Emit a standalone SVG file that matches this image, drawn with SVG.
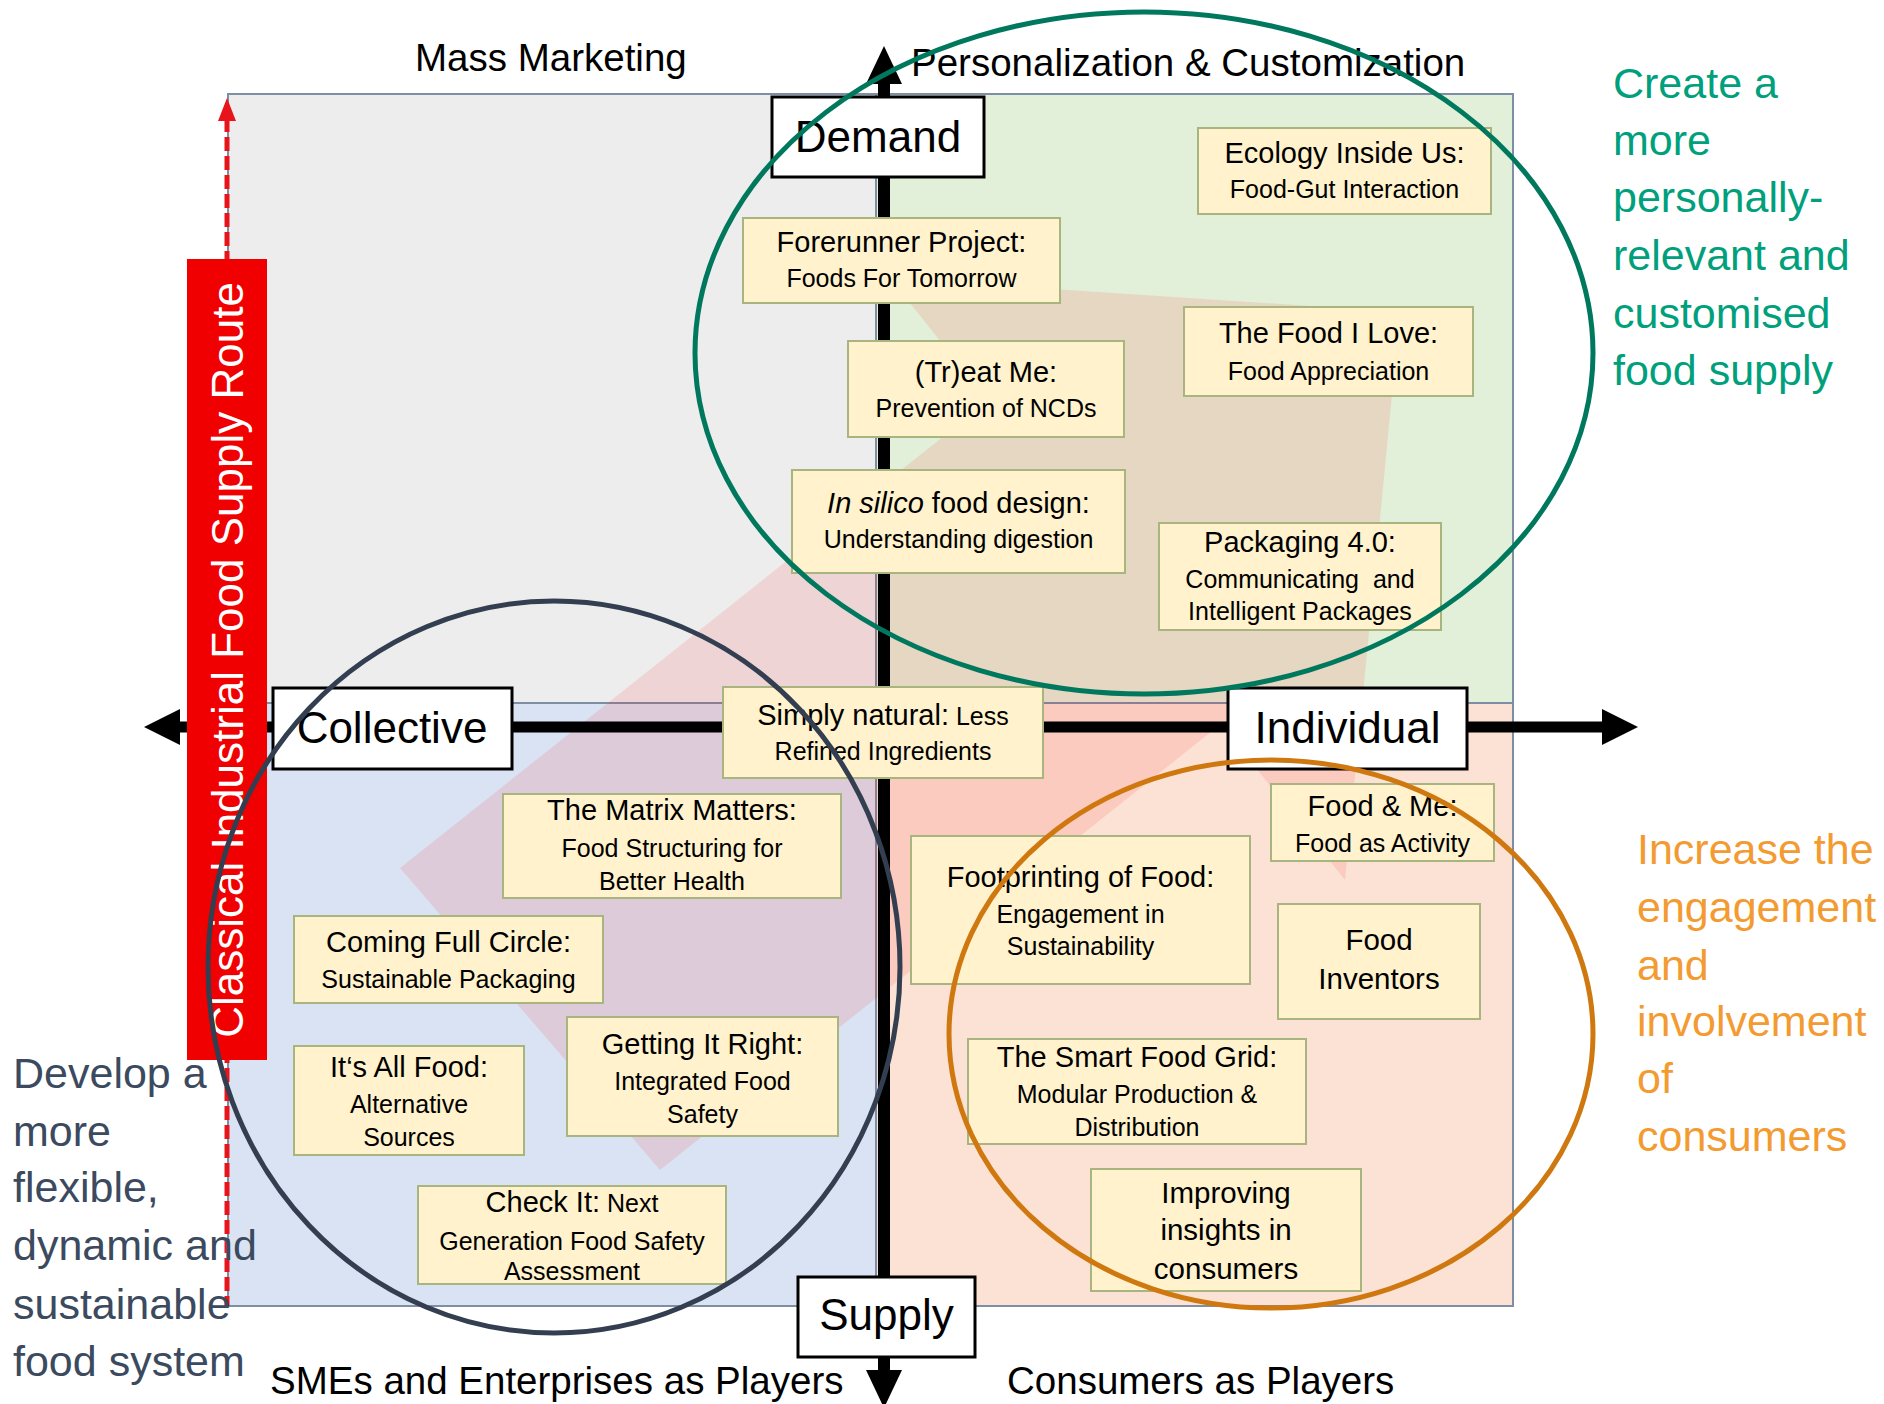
<svg xmlns="http://www.w3.org/2000/svg" width="1884" height="1404" viewBox="0 0 1884 1404">
<defs>
<style>
.q{stroke:#7D8EA5;stroke-width:2}
.box{fill:#FFF2CC;stroke:#A9B57F;stroke-width:2}
.lbl{fill:#FFFFFF;stroke:#000000;stroke-width:3}
text{font-family:'Liberation Sans',Arial,sans-serif}
.t{fill:#000;text-anchor:middle}
.h{font-size:29px}
.s{font-size:25px}
.g{font-size:29.5px}
.b{font-size:44px}
.ax{font-size:38.5px;fill:#000}
.side{font-size:43px}
.ell{fill:none;stroke-width:5}
</style>
</defs>
<rect width="1884" height="1404" fill="#FFFFFF"/>

<g id="quadrants">
<rect class="q" x="228" y="94" width="648" height="609" fill="#EDEDED"/>
<rect class="q" x="876" y="94" width="637" height="609" fill="#E2F0D9"/>
<rect class="q" x="228" y="703" width="648" height="603" fill="#DAE3F3"/>
<rect class="q" x="876" y="703" width="637" height="603" fill="#FBE2D5"/>
</g>

<g id="transition-arrow">
<polygon points="400,868 988,401 890,278 1400,312 1345,880 1221,724 660,1170" fill="#FF0000" fill-opacity="0.1"/>
</g>

<g id="connectors">
<line x1="884" y1="82" x2="884" y2="1372" stroke="#000" stroke-width="12"/>
<polygon points="884,46 866,84 902,84" fill="#000"/>
<polygon points="866,1370 902,1370 884,1408" fill="#000"/>
<line x1="178" y1="727" x2="1606" y2="727" stroke="#000" stroke-width="11"/>
<polygon points="144,727 180,709 180,745" fill="#000"/>
<polygon points="1638,727 1602,709 1602,745" fill="#000"/>
<line x1="227" y1="118" x2="227" y2="1306" stroke="#E8141B" stroke-width="5" stroke-dasharray="14 5"/>
<polygon points="227,98 218,121 236,121" fill="#E8141B"/>
</g>

<g id="classical-route">
<rect x="187" y="259" width="80" height="801" fill="#F00000"/>
<text transform="translate(243,660) rotate(-90)" text-anchor="middle" font-size="44" fill="#FFFFFF">Classical Industrial Food Supply Route</text>
</g>

<g id="ecology">
<rect class="box" x="1198" y="128" width="293" height="86"/>
<text class="t"><tspan class="h" x="1344.5" y="163">Ecology Inside Us:</tspan><tspan class="s" x="1344.5" y="198">Food-Gut Interaction</tspan></text>
</g>
<g id="forerunner">
<rect class="box" x="743" y="218" width="317" height="85"/>
<text class="t"><tspan class="h" x="901.5" y="252">Forerunner Project:</tspan><tspan class="s" x="901.5" y="287">Foods For Tomorrow</tspan></text>
</g>
<g id="treat-me">
<rect class="box" x="848" y="341" width="276" height="96"/>
<text class="t"><tspan class="h" x="986" y="382">(Tr)eat Me:</tspan><tspan class="s" x="986" y="417">Prevention of NCDs</tspan></text>
</g>
<g id="in-silico">
<rect class="box" x="792" y="470" width="333" height="103"/>
<text class="t"><tspan class="h" x="958.5" y="513"><tspan font-style="italic">In silico</tspan> food design:</tspan><tspan class="s" x="958.5" y="548">Understanding digestion</tspan></text>
</g>
<g id="packaging">
<rect class="box" x="1159" y="523" width="282" height="107"/>
<text class="t" xml:space="preserve"><tspan class="h" x="1300" y="552">Packaging 4.0:</tspan><tspan class="s" x="1300" y="588">Communicating  and</tspan><tspan class="s" x="1300" y="620">Intelligent Packages</tspan></text>
</g>
<g id="food-i-love">
<rect class="box" x="1184" y="307" width="289" height="89"/>
<text class="t"><tspan class="h" x="1328.5" y="343">The Food I Love:</tspan><tspan class="s" x="1328.5" y="380">Food Appreciation</tspan></text>
</g>
<g id="simply-natural">
<rect class="box" x="723" y="687" width="320" height="91"/>
<text class="t"><tspan x="883" y="725"><tspan class="h">Simply natural:</tspan><tspan class="s"> Less</tspan></tspan><tspan class="s" x="883" y="760">Refined Ingredients</tspan></text>
</g>
<g id="matrix">
<rect class="box" x="503" y="794" width="338" height="104"/>
<text class="t"><tspan class="h" x="672" y="820">The Matrix Matters:</tspan><tspan class="s" x="672" y="857">Food Structuring for</tspan><tspan class="s" x="672" y="890">Better Health</tspan></text>
</g>
<g id="full-circle">
<rect class="box" x="294" y="916" width="309" height="87"/>
<text class="t"><tspan class="h" x="448.5" y="952">Coming Full Circle:</tspan><tspan class="s" x="448.5" y="988">Sustainable Packaging</tspan></text>
</g>
<g id="all-food">
<rect class="box" x="294" y="1046" width="230" height="109"/>
<text class="t"><tspan class="h" x="409" y="1077">It‘s All Food:</tspan><tspan class="s" x="409" y="1113">Alternative</tspan><tspan class="s" x="409" y="1146">Sources</tspan></text>
</g>
<g id="getting-it-right">
<rect class="box" x="567" y="1017" width="271" height="119"/>
<text class="t"><tspan class="h" x="702.5" y="1054">Getting It Right:</tspan><tspan class="s" x="702.5" y="1090">Integrated Food</tspan><tspan class="s" x="702.5" y="1123">Safety</tspan></text>
</g>
<g id="check-it">
<rect class="box" x="418" y="1186" width="308" height="98"/>
<text class="t"><tspan x="572" y="1212"><tspan class="h">Check It:</tspan><tspan class="s"> Next</tspan></tspan><tspan class="s" x="572" y="1250">Generation Food Safety</tspan><tspan class="s" x="572" y="1280">Assessment</tspan></text>
</g>
<g id="food-and-me">
<rect class="box" x="1271" y="784" width="223" height="77"/>
<text class="t"><tspan class="h" x="1382.5" y="816">Food &amp; Me:</tspan><tspan class="s" x="1382.5" y="852">Food as Activity</tspan></text>
</g>
<g id="footprinting">
<rect class="box" x="911" y="836" width="339" height="148"/>
<text class="t"><tspan class="h" x="1080.5" y="887">Footprinting of Food:</tspan><tspan class="s" x="1080.5" y="923">Engagement in</tspan><tspan class="s" x="1080.5" y="955">Sustainability</tspan></text>
</g>
<g id="food-inventors">
<rect class="box" x="1278" y="904" width="202" height="115"/>
<text class="t g"><tspan x="1379" y="950">Food</tspan><tspan x="1379" y="989">Inventors</tspan></text>
</g>
<g id="smart-food-grid">
<rect class="box" x="968" y="1039" width="338" height="105"/>
<text class="t"><tspan class="h" x="1137" y="1067">The Smart Food Grid:</tspan><tspan class="s" x="1137" y="1103">Modular Production &amp;</tspan><tspan class="s" x="1137" y="1136">Distribution</tspan></text>
</g>
<g id="improving-insights">
<rect class="box" x="1091" y="1169" width="270" height="122"/>
<text class="t g"><tspan x="1226" y="1203">Improving</tspan><tspan x="1226" y="1240">insights in</tspan><tspan x="1226" y="1279">consumers</tspan></text>
</g>

<g id="demand">
<rect class="lbl" x="772" y="97" width="212" height="80"/>
<text class="t b" x="878" y="152">Demand</text>
</g>
<g id="collective">
<rect class="lbl" x="273" y="688" width="239" height="81"/>
<text class="t b" x="392" y="743">Collective</text>
</g>
<g id="individual">
<rect class="lbl" x="1228" y="688" width="239" height="81"/>
<text class="t b" x="1347.5" y="743">Individual</text>
</g>
<g id="supply">
<rect class="lbl" x="798" y="1277" width="177" height="80"/>
<text class="t b" x="886.5" y="1330">Supply</text>
</g>

<g id="axis-labels">
<text class="ax" x="415" y="71">Mass Marketing</text>
<text class="ax" x="911" y="76">Personalization &amp; Customization</text>
<text class="ax" x="270" y="1394">SMEs and Enterprises as Players</text>
<text class="ax" x="1007" y="1394">Consumers as Players</text>
</g>

<g id="personal-ellipse">
<ellipse class="ell" cx="1144" cy="353" rx="449" ry="341" stroke="#00785E"/>
</g>
<g id="flexible-ellipse">
<ellipse class="ell" cx="554" cy="967" rx="346" ry="366" stroke="#333F50"/>
</g>
<g id="engagement-ellipse">
<ellipse class="ell" cx="1271" cy="1034" rx="322" ry="274" stroke="#D07810" stroke-width="6"/>
</g>

<g id="goal-personal">
<text class="side" fill="#00A07C"><tspan x="1613" y="98">Create a</tspan><tspan x="1613" y="155">more</tspan><tspan x="1613" y="212">personally-</tspan><tspan x="1613" y="270">relevant and</tspan><tspan x="1613" y="328">customised</tspan><tspan x="1613" y="385">food supply</tspan></text>
</g>
<g id="goal-engagement">
<text class="side" fill="#F39B30"><tspan x="1637" y="864">Increase the</tspan><tspan x="1637" y="922">engagement</tspan><tspan x="1637" y="980">and</tspan><tspan x="1637" y="1036">involvement</tspan><tspan x="1637" y="1093">of</tspan><tspan x="1637" y="1151">consumers</tspan></text>
</g>
<g id="goal-flexible">
<text class="side" fill="#3B4A5E"><tspan x="13" y="1088">Develop a</tspan><tspan x="13" y="1146">more</tspan><tspan x="13" y="1202">flexible,</tspan><tspan x="13" y="1260">dynamic and</tspan><tspan x="13" y="1319">sustainable</tspan><tspan x="13" y="1376">food system</tspan></text>
</g>
</svg>
